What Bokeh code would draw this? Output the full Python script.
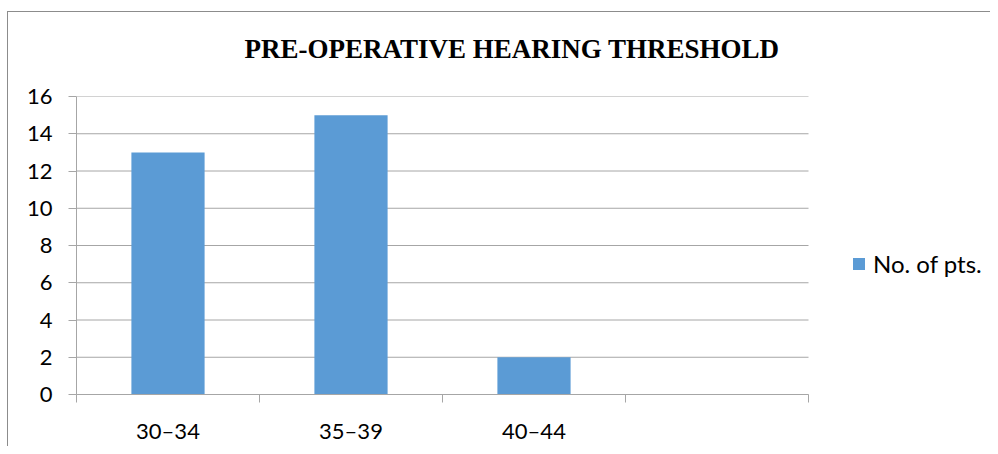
from bokeh.plotting import figure
from bokeh.models import (FixedTicker, Legend, LegendItem, Range1d, ColumnDataSource)
from bokeh.embed import file_html
from bokeh.resources import INLINE

# ---- data ----
categories = ["30–34", "35–39", "40–44", ""]
counts = [13, 15, 2, 0]
series_name = "No. of pts."
title_text = "PRE-OPERATIVE HEARING THRESHOLD"
y_ticks = [0, 2, 4, 6, 8, 10, 12, 14, 16]

BAR = "#5b9bd5"
GRID = "#a6a6a6"
BORDER = "#8c8c8c"
FONT = "Lato"

n = len(categories)
xpos = [i + 0.5 for i in range(n)]
src = ColumnDataSource(dict(x=xpos, top=counts, cat=categories))

# plot frame extends under the legend; category area is the first 732 px of 914
FRAME_W, CAT_W = 914, 732
p = figure(width=990, height=446, output_backend="svg", toolbar_location=None,
           x_range=Range1d(0, n * FRAME_W / CAT_W), y_range=Range1d(0, 16),
           min_border_left=76, min_border_right=0, min_border_top=96,
           min_border_bottom=52)
p.outline_line_color = None
p.background_fill_color = "white"
p.border_fill_alpha = 0
# outer chart border (top and left edges visible in the reference)
p.styles = {
    "background": (f"linear-gradient({BORDER},{BORDER}) 7px 11px / 1px 100% no-repeat, "
                   f"linear-gradient({BORDER},{BORDER}) 7px 11px / 100% 1px no-repeat, #ffffff")
}

# horizontal gridlines across the category area only
p.xgrid.grid_line_color = None
p.ygrid.grid_line_color = None
p.segment(x0=[0] * len(y_ticks), x1=[n] * len(y_ticks), y0=y_ticks, y1=y_ticks,
          line_color=GRID, line_width=1)

r = p.vbar(x="x", top="top", width=0.4, source=src, fill_color=BAR, line_color=None)

# y axis
ya = p.yaxis[0]
ya.ticker = FixedTicker(ticks=y_ticks)
ya.axis_line_color = GRID
ya.major_tick_line_color = GRID
ya.major_tick_out = 8
ya.major_tick_in = 0
ya.minor_tick_line_color = None
ya.major_label_standoff = 16
ya.major_label_text_font = FONT
ya.major_label_text_font_size = "22px"
ya.major_label_text_color = "black"

# x axis: labels at centres, tick marks at category boundaries
xa = p.xaxis[0]
xa.bounds = (0, n)
xa.ticker = FixedTicker(ticks=xpos, minor_ticks=list(range(n + 1)))
xa.major_label_overrides = {xv: c for xv, c in zip(xpos, categories)}
xa.axis_line_color = GRID
xa.major_tick_line_color = None
xa.major_tick_out = 0
xa.major_tick_in = 0
xa.minor_tick_line_color = GRID
xa.minor_tick_out = 8
xa.minor_tick_in = 0
xa.major_label_standoff = 14
xa.major_label_text_font = FONT
xa.major_label_text_font_size = "22px"
xa.major_label_text_color = "black"

# title
p.title.text = title_text
p.title.text_font = "Liberation Serif"
p.title.text_font_style = "bold"
p.title.text_font_size = "27px"
p.title.text_color = "black"
p.title.align = "left"
p.title.offset = 168
p.title.vertical_align = "middle"
p.title.standoff = 64

# legend
legend = Legend(items=[LegendItem(label=series_name, renderers=[r])],
                location=(775, 116), border_line_color=None,
                background_fill_alpha=0, padding=0, margin=0,
                glyph_width=15, glyph_height=15, label_standoff=7,
                label_text_font=FONT, label_text_font_size="24px",
                label_text_color="black")
p.add_layout(legend, "center")

open("out.html", "w").write(file_html(p, INLINE))
